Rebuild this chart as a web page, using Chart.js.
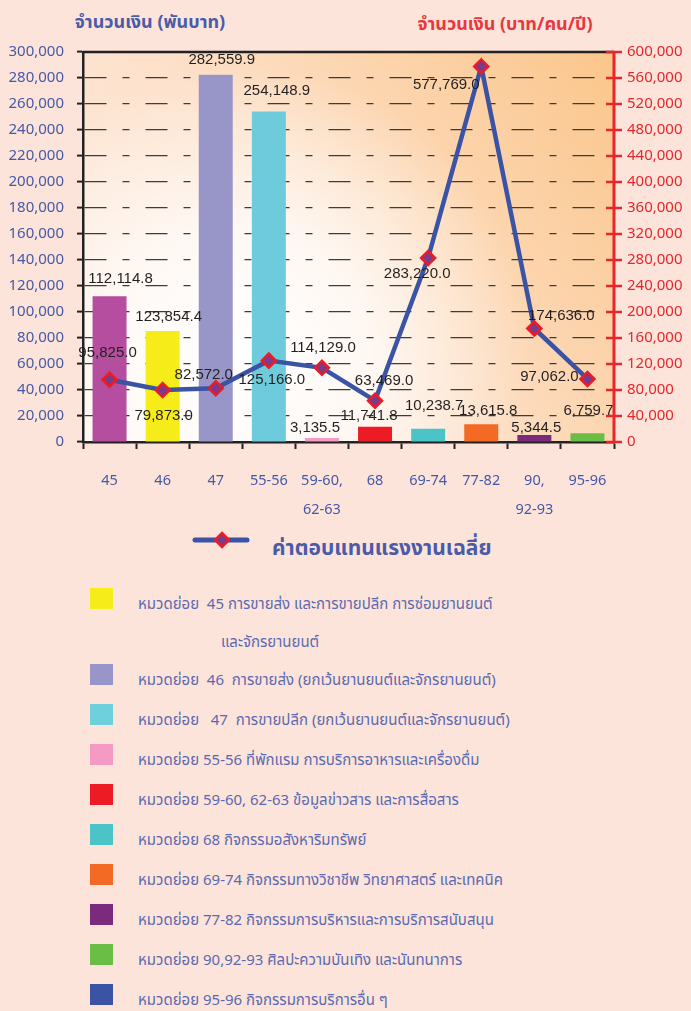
<!DOCTYPE html>
<html>
<head>
<meta charset="utf-8">
<script src="https://cdn.jsdelivr.net/npm/chart.js@4"></script>
<style>
  html, body { margin: 0; padding: 0; }
  body {
    width: 691px; height: 1011px; overflow: hidden; position: relative;
    background: #fde4da;
    font-family: "Noto Sans Thai", "Noto Sans", "Tahoma", sans-serif;
  }
  #wrap { position: absolute; left: 0; top: 0; width: 691px; height: 520px; }
  .axis-title { position: absolute; font-size: 18px; font-weight: bold; white-space: nowrap; transform: translateX(-50%); }
  #titleLeft { left: 150px; top: 9px; color: #4a5ba8; }
  #titleRight { left: 505px; top: 11px; color: #e8383d; }
  #legendLine { position: absolute; left: 192px; top: 530px; display: block; }
  #lineLegendText { position: absolute; left: 272px; top: 533px; font-size: 21px; font-weight: bold; color: #4a5ba8; white-space: nowrap; line-height: 32px; }
  #barLegend { position: absolute; left: 90px; top: 588px; margin: 0; padding: 0; list-style: none; }
  #barLegend li { position: relative; height: 40px; }
  #barLegend li.wrap2 { height: 76px; }
  #barLegend .sw { position: absolute; left: 0; top: 0; width: 23px; height: 21px; }
  #barLegend .tx { position: absolute; left: 48px; top: -2px; width: 420px; font-size: 15px; line-height: 38px; color: #5a6ab0; white-space: pre; }
  #barLegend .tx .cont { display: block; padding-left: 83px; }
</style>
</head>
<body>
<div id="titleLeft" class="axis-title">จำนวนเงิน (พันบาท)</div>
<div id="titleRight" class="axis-title">จำนวนเงิน (บาท/คน/ปี)</div>
<div id="wrap"><canvas id="chart"></canvas></div>
<canvas id="legendLine" width="58" height="20"></canvas>
<div id="lineLegendText"></div>
<ul id="barLegend"></ul>

<script>
// categories (หมวดย่อย)
const categories = ['45', '46', '47', '55-56', ['59-60,', '62-63'], '68', '69-74', '77-82', ['90,', '92-93'], '95-96'];

// bar heights as drawn (พันบาท) and the labels printed above them
const barValues = [112114.8, 85300, 282559.9, 254148.9, 3135.5, 11741.8, 10238.7, 13615.8, 5344.5, 6759.7];
const barLabels = ['112,114.8', '123,854.4', '282,559.9', '254,148.9', '3,135.5', '11,741.8', '10,238.7', '13,615.8', '5,344.5', '6,759.7'];

// average compensation (บาท/คน/ปี)
const wageValues = [95825, 79873, 82572, 125166, 114129, 63469, 283220, 577769, 174636, 97062];
const wageLabel = 'ค่าตอบแทนแรงงานเฉลี่ย';

// legend entries under the chart
const legendLabels = [
  ['หมวดย่อย  45 การขายส่ง และการขายปลีก การซ่อมยานยนต์', 'และจักรยานยนต์'],
  'หมวดย่อย  46  การขายส่ง (ยกเว้นยานยนต์และจักรยานยนต์)',
  'หมวดย่อย   47  การขายปลีก (ยกเว้นยานยนต์และจักรยานยนต์)',
  'หมวดย่อย 55-56 ที่พักแรม การบริการอาหารและเครื่องดื่ม',
  'หมวดย่อย 59-60, 62-63 ข้อมูลข่าวสาร และการสื่อสาร',
  'หมวดย่อย 68 กิจกรรมอสังหาริมทรัพย์',
  'หมวดย่อย 69-74 กิจกรรมทางวิชาชีพ วิทยาศาสตร์ และเทคนิค',
  'หมวดย่อย 77-82 กิจกรรมการบริหารและการบริการสนับสนุน',
  'หมวดย่อย 90,92-93 ศิลปะความบันเทิง และนันทนาการ',
  'หมวดย่อย 95-96 กิจกรรมการบริการอื่น ๆ'
];
const legendColors = ['#f5ec1a', '#9896c8', '#6ecfdd', '#f49ac4', '#ed1c24', '#4bc4c8', '#f26a24', '#7c2a7c', '#6abd45', '#3a53a4'];

const barColors = ['#b54e9e', '#f5ec1a', '#9896c8', '#6ecbdb', '#f49ac4', '#ed1c24', '#4bc4c8', '#f26a24', '#7c2a7c', '#6abd45'];

// where each printed value sits relative to its mark (px)
const barLabelShift = [[11, -17], [6, -14], [6, -15], [8, -21], [-7, -10], [-6, -11], [6, -23], [7, -13], [2, -7], [1, -22]];
const wageLabelShift = [[-2, -27], [1, 26], [-12, -13], [3, 19], [1, -20], [9, -20], [-11, 16], [-35, 18], [27, -13], [-38, -2]];

const LINE_BLUE = '#3a53a4';
const MARK_RED = '#ed1c24';
const MARK_FILL = '#7b3a8a';
const AXIS_BLUE = '#4559a6';
const AXIS_RED = '#e8262a';

function fmt(v) {
  return v.toLocaleString('en-US');
}

const plotDecor = {
  id: 'plotDecor',
  beforeDraw(chart) {
    const {ctx, chartArea: a} = chart;
    const w = a.right - a.left, h = a.bottom - a.top;
    const g = ctx.createLinearGradient(a.left, a.bottom, a.right, a.top);
    g.addColorStop(0, '#fdeee4');
    g.addColorStop(0.45, '#fde0c9');
    g.addColorStop(1, '#fbc68b');
    ctx.save();
    ctx.fillStyle = g;
    ctx.fillRect(a.left, a.top, w, h);
    // soft white glow in the lower left
    const cx = a.left + w * 0.3, cy = a.bottom - h * 0.22;
    const r = ctx.createRadialGradient(cx, cy, 0, cx, cy, 290);
    r.addColorStop(0, 'rgba(255,255,255,1)');
    r.addColorStop(0.45, 'rgba(255,255,255,0.75)');
    r.addColorStop(1, 'rgba(255,255,255,0)');
    ctx.fillStyle = r;
    ctx.fillRect(a.left, a.top, w, h);
    ctx.restore();
  },
  afterDraw(chart) {
    const {ctx, chartArea: a} = chart;
    ctx.save();
    // top border
    ctx.strokeStyle = '#222';
    ctx.lineWidth = 2.5;
    ctx.beginPath();
    ctx.moveTo(a.left, a.top);
    ctx.lineTo(a.right, a.top);
    ctx.stroke();
    // red right axis with crossing ticks
    const y1 = chart.scales.y1;
    ctx.strokeStyle = AXIS_RED;
    ctx.lineWidth = 3;
    ctx.beginPath();
    ctx.moveTo(a.right, a.top);
    ctx.lineTo(a.right, a.bottom);
    ctx.stroke();
    ctx.lineWidth = 2.5;
    y1.ticks.forEach(t => {
      const y = y1.getPixelForValue(t.value);
      ctx.beginPath();
      ctx.moveTo(a.right - 8, y);
      ctx.lineTo(a.right + 8, y);
      ctx.stroke();
    });
    ctx.restore();
  }
};

const valueLabels = {
  id: 'valueLabels',
  afterDatasetsDraw(chart) {
    const ctx = chart.ctx;
    ctx.save();
    ctx.font = '15px "Liberation Sans", "DejaVu Sans", sans-serif';
    ctx.fillStyle = '#231f20';
    ctx.textAlign = 'center';
    ctx.textBaseline = 'middle';
    chart.getDatasetMeta(1).data.forEach((el, i) => {
      const s = barLabelShift[i];
      ctx.fillText(barLabels[i], el.x + s[0], el.y + s[1]);
    });
    chart.getDatasetMeta(0).data.forEach((el, i) => {
      const s = wageLabelShift[i];
      ctx.fillText(fmt(wageValues[i]) + '.0', el.x + s[0], el.y + s[1]);
    });
    ctx.restore();
  }
};

const ctx = document.getElementById('chart').getContext('2d');
new Chart(ctx, {
  type: 'bar',
  data: {
    labels: categories,
    datasets: [
      {
        type: 'line',
        label: wageLabel,
        data: wageValues,
        yAxisID: 'y1',
        borderColor: LINE_BLUE,
        borderWidth: 4.5,
        pointStyle: 'rectRot',
        pointRadius: 7,
        pointBackgroundColor: MARK_FILL,
        pointBorderColor: MARK_RED,
        pointBorderWidth: 2.5,
        tension: 0,
        order: 1,
      },
      {
        type: 'bar',
        label: 'จำนวนเงิน',
        data: barValues,
        yAxisID: 'y',
        backgroundColor: barColors,
        barPercentage: 0.64,
        categoryPercentage: 1,
        order: 2,
      },
    ],
  },
  options: {
    responsive: true,
    maintainAspectRatio: false,
    animation: false,
    layout: { padding: { top: 52, left: 0, right: 0, bottom: 0 } },
    plugins: {
      legend: { display: false },
      tooltip: { enabled: false },
    },
    scales: {
      x: {
        offset: true,
        afterFit: s => { s.height = 78; },
        grid: {
          offset: true,
          drawOnChartArea: false,
          tickLength: 7,
          tickWidth: 2,
          tickColor: '#222',
        },
        border: { color: '#222', width: 2.5 },
        ticks: {
          color: AXIS_BLUE,
          padding: 17,
          maxRotation: 0,
          autoSkip: false,
          font: { family: '"Noto Sans", sans-serif', size: 14.5, lineHeight: 2 },
        },
      },
      y: {
        position: 'left',
        min: 0,
        max: 300000,
        afterFit: s => { s.width = 83; },
        grid: {
          color: '#3c3c3c',
          lineWidth: 1.2,
          tickLength: 6,
          tickWidth: 2,
          tickColor: '#222',
        },
        border: { color: '#222', width: 2.5, dash: [22, 16, 7, 16] },
        ticks: {
          stepSize: 20000,
          color: AXIS_BLUE,
          padding: 13,
          font: { family: '"Noto Sans", sans-serif', size: 15 },
          callback: v => fmt(v),
        },
      },
      y1: {
        position: 'right',
        min: 0,
        max: 600000,
        afterFit: s => { s.width = 77; },
        grid: { drawOnChartArea: false, drawTicks: true, tickLength: 8, tickColor: 'rgba(0,0,0,0)' },
        border: { display: false },
        ticks: {
          stepSize: 40000,
          color: AXIS_RED,
          padding: 5,
          font: { family: '"Noto Sans", sans-serif', size: 15 },
          callback: v => fmt(v),
        },
      },
    },
  },
  plugins: [plotDecor, valueLabels],
});

// small line+marker sample for the series legend
document.getElementById('lineLegendText').textContent = wageLabel;
const lc = document.getElementById('legendLine').getContext('2d');
lc.strokeStyle = LINE_BLUE;
lc.lineWidth = 5;
lc.lineCap = 'round';
lc.beginPath();
lc.moveTo(3, 10);
lc.lineTo(55, 10);
lc.stroke();
lc.fillStyle = MARK_FILL;
lc.strokeStyle = MARK_RED;
lc.lineWidth = 2.5;
lc.beginPath();
lc.moveTo(30, 3);
lc.lineTo(37, 10);
lc.lineTo(30, 17);
lc.lineTo(23, 10);
lc.closePath();
lc.fill();
lc.stroke();

// category legend list
const ul = document.getElementById('barLegend');
legendLabels.forEach((lab, i) => {
  const li = document.createElement('li');
  const sw = document.createElement('div');
  sw.className = 'sw';
  sw.style.background = legendColors[i];
  const tx = document.createElement('div');
  tx.className = 'tx';
  if (Array.isArray(lab)) {
    li.className = 'wrap2';
    tx.textContent = lab[0];
    const c = document.createElement('span');
    c.className = 'cont';
    c.textContent = lab[1];
    tx.appendChild(c);
  } else {
    tx.textContent = lab;
  }
  li.appendChild(sw);
  li.appendChild(tx);
  ul.appendChild(li);
});
</script>
</body>
</html>
